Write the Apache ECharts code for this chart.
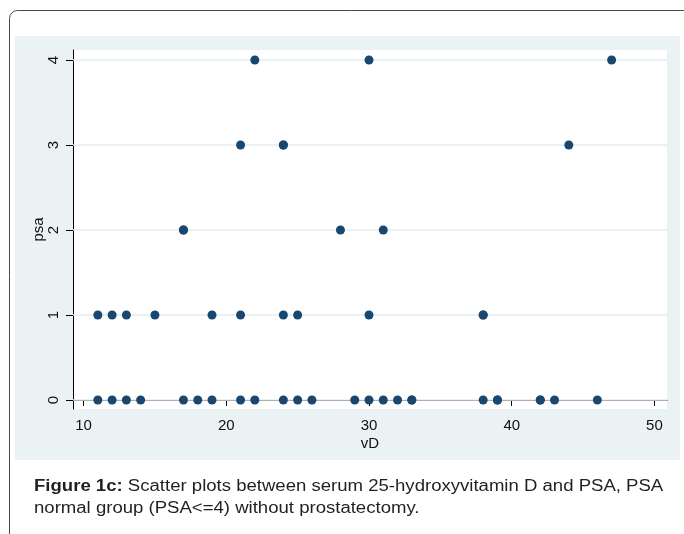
<!DOCTYPE html>
<html>
<head>
<meta charset="utf-8">
<script src="https://cdn.jsdelivr.net/npm/echarts@6/dist/echarts.min.js"></script>
<style>
  html, body { margin: 0; padding: 0; background: #fff; }
  #main { width: 684px; height: 534px; }
</style>
</head>
<body>
<div id="main"></div>
<script>
// vD (x) and psa (y) pairs
var vD  = [11, 12, 13, 14, 17, 18, 19, 21, 22, 24, 25, 26, 29, 30, 31, 32, 33, 33, 38, 39, 39, 42, 42, 43, 46,
           11, 12, 13, 15, 19, 21, 24, 25, 30, 38, 38,
           17, 17, 28, 31,
           21, 24, 24, 44,
           22, 30, 47];
var psa = [0, 0, 0, 0, 0, 0, 0, 0, 0, 0, 0, 0, 0, 0, 0, 0, 0, 0, 0, 0, 0, 0, 0, 0, 0,
           1, 1, 1, 1, 1, 1, 1, 1, 1, 1, 1,
           2, 2, 2, 2,
           3, 3, 3, 3,
           4, 4, 4];
var xTicks = [10, 20, 30, 40, 50];
var yTicks = [0, 1, 2, 3, 4];

var points = vD.map(function (v, i) { return [v, psa[i]]; });

var chartDom = document.getElementById("main");
var myChart = echarts.init(chartDom, null, { renderer: "canvas" });

var FONT = "Liberation Sans, Arial, sans-serif";
var axisText = { color: "#111", fontSize: 15, fontFamily: FONT };

var option = {
  animation: false,
  backgroundColor: "#fff",
  graphic: [
    {
      type: "rect", z: -10, silent: true,
      shape: { x: 9.5, y: 10.5, width: 690, height: 560, r: 8 },
      style: { fill: "#fff", stroke: "#4a4a4a", lineWidth: 1 }
    },
    {
      type: "rect", z: -9, silent: true,
      shape: { x: 15, y: 36, width: 665, height: 424 },
      style: { fill: "#eaf2f3" }
    },
    {
      // figure caption, stretched a little to match the source width
      type: "text", silent: true,
      x: 34, y: 476, scaleX: 1.16,
      style: {
        text: "{b|Figure 1c:} Scatter plots between serum 25-hydroxyvitamin D and PSA, PSA\nnormal group (PSA<=4) without prostatectomy.",
        fill: "#231f20",
        fontSize: 16,
        fontFamily: FONT,
        lineHeight: 22,
        rich: {
          b: { fontWeight: "bold", fontSize: 16, fontFamily: FONT, fill: "#231f20", lineHeight: 22 }
        }
      }
    }
  ],
  grid: {
    left: 73, top: 50, width: 594, height: 359,
    show: true, backgroundColor: "#fff", borderWidth: 0
  },
  xAxis: {
    type: "value",
    min: 9.26, max: 50.88,
    name: "vD",
    nameLocation: "middle",
    nameGap: 27,
    nameMoveOverlap: false,
    nameTextStyle: axisText,
    axisLine: { show: true, lineStyle: { color: "#000", width: 1 } },
    axisTick: { show: true, length: 6, customValues: xTicks, lineStyle: { color: "#000" } },
    axisLabel: Object.assign({ customValues: xTicks, margin: 9 }, axisText),
    splitLine: { show: false }
  },
  yAxis: {
    type: "value",
    min: -0.106, max: 4.118,
    name: "psa",
    nameLocation: "middle",
    nameGap: 27,
    nameRotate: 90,
    nameMoveOverlap: false,
    nameTextStyle: axisText,
    axisLine: { show: true, lineStyle: { color: "#000", width: 1 } },
    axisTick: { show: true, length: 7, customValues: yTicks, lineStyle: { color: "#000" } },
    axisLabel: Object.assign({ customValues: yTicks, rotate: 90, margin: 12 }, axisText),
    splitLine: { show: false }
  },
  series: [
    {
      type: "scatter",
      data: points,
      symbol: "circle",
      symbolSize: 9,
      itemStyle: { color: "#1a476f", opacity: 1 },
      markLine: {
        silent: true,
        symbol: "none",
        label: { show: false },
        z: 1,
        lineStyle: { color: "#e3ecef", type: "solid", width: 1.5 },
        data: yTicks.map(function (t) { return { yAxis: t }; })
      }
    }
  ]
};

myChart.setOption(option);
window.addEventListener("resize", function () { myChart.resize(); });
</script>
</body>
</html>
